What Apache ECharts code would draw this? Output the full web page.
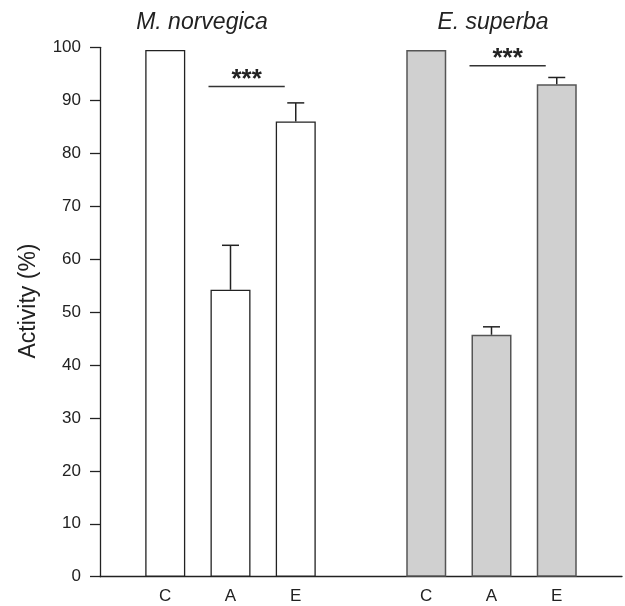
<!DOCTYPE html>
<html>
<head>
<meta charset="utf-8">
<script src="https://cdn.jsdelivr.net/npm/echarts@6/dist/echarts.min.js"></script>
<style>
  html, body { margin: 0; padding: 0; background: #fff; }
  #chart { width: 625px; height: 606px; }
</style>
</head>
<body>
<div id="chart"></div>
<script>
// categories along x; empty slots give the gap between the two species
var categories = ['', 'C', 'A', 'E', '', 'C', 'A', 'E', ''];
var yTicks = [0, 10, 20, 30, 40, 50, 60, 70, 80, 90, 100];

// M. norvegica
var norvegicaIdx = [1, 2, 3];
var norvegicaMean = [99.5, 54.2, 86.0];
var norvegicaErr = [0, 8.4, 3.5];
var norvegicaSig = [92.6];

// E. superba
var superbaIdx = [5, 6, 7];
var superbaMean = [99.5, 45.7, 93.0];
var superbaErr = [0, 1.5, 1.3];
var superbaSig = [96.5];

var FONT = '"Liberation Sans", Arial, Helvetica, sans-serif';

function barData(idx, vals) {
  var out = categories.map(function () { return '-'; });
  for (var i = 0; i < idx.length; i++) out[idx[i]] = vals[i];
  return out;
}

function errData(idx, mean, err) {
  var out = [];
  for (var i = 0; i < idx.length; i++) {
    if (err[i] > 0) out.push([idx[i], mean[i], mean[i] + err[i]]);
  }
  return out;
}

// significance bracket: from A (index) to E (index), at height y
var sigData = [
  [norvegicaIdx[1], norvegicaIdx[2], norvegicaSig[0]],
  [superbaIdx[1], superbaIdx[2], superbaSig[0]]
];

var myChart = echarts.init(document.getElementById('chart'));

var option = {
  animation: false,
  backgroundColor: '#fff',
  grid: { left: 100, top: 47.3, width: 528, height: 529.4, containLabel: false },
  graphic: [
    { type: 'text', x: 202, y: 23, style: { text: 'M. norvegica', fill: '#222', font: 'italic 23px ' + FONT, align: 'center', verticalAlign: 'middle', textAlign: 'center', textVerticalAlign: 'middle' } },
    { type: 'text', x: 493, y: 23, style: { text: 'E. superba', fill: '#222', font: 'italic 23px ' + FONT, align: 'center', verticalAlign: 'middle', textAlign: 'center', textVerticalAlign: 'middle' } }
  ],
  xAxis: {
    type: 'category',
    data: categories,
    boundaryGap: false,
    axisLine: { show: true, lineStyle: { color: '#222', width: 1.3 } },
    axisTick: { show: false },
    axisLabel: { color: '#222', fontSize: 17, fontFamily: FONT, margin: 11, interval: 0 },
    splitLine: { show: false }
  },
  yAxis: {
    type: 'value',
    min: yTicks[0],
    max: yTicks[yTicks.length - 1],
    interval: 10,
    name: 'Activity (%)',
    nameLocation: 'middle',
    nameGap: 60,
    nameTextStyle: { color: '#222', fontSize: 23, fontFamily: FONT, padding: [0, 0, 0, 22] },
    axisLine: { show: true, lineStyle: { color: '#222', width: 1.3 } },
    axisTick: { show: true, length: 10, inside: false, lineStyle: { color: '#222', width: 1.3 } },
    axisLabel: { color: '#222', fontSize: 17, fontFamily: FONT, margin: 19 },
    splitLine: { show: false }
  },
  series: [
    {
      name: 'M. norvegica',
      type: 'bar',
      barWidth: 40,
      barGap: '-100%',
      data: barData(norvegicaIdx, norvegicaMean),
      itemStyle: { color: '#fff', borderColor: '#222', borderWidth: 1.3 }
    },
    {
      name: 'E. superba',
      type: 'bar',
      barWidth: 40,
      barGap: '-100%',
      data: barData(superbaIdx, superbaMean),
      itemStyle: { color: '#d0d0d0', borderColor: '#555', borderWidth: 1.5 }
    },
    {
      name: 'error',
      type: 'custom',
      data: errData(norvegicaIdx, norvegicaMean, norvegicaErr)
        .concat(errData(superbaIdx, superbaMean, superbaErr)),
      renderItem: function (params, api) {
        var base = api.coord([api.value(0), api.value(1)]);
        var top = api.coord([api.value(0), api.value(2)]);
        var half = 8.5;
        var st = { stroke: '#222', lineWidth: 1.5 };
        return {
          type: 'group',
          children: [
            { type: 'line', shape: { x1: base[0], y1: base[1], x2: top[0], y2: top[1] }, style: st },
            { type: 'line', shape: { x1: top[0] - half, y1: top[1], x2: top[0] + half, y2: top[1] }, style: st }
          ]
        };
      },
      z: 5
    },
    {
      name: 'sig',
      type: 'custom',
      data: sigData,
      renderItem: function (params, api) {
        var p1 = api.coord([api.value(0), api.value(2)]);
        var p2 = api.coord([api.value(1), api.value(2)]);
        var x1 = p1[0] - 22, x2 = p2[0] - 11;
        return {
          type: 'group',
          children: [
            { type: 'line', shape: { x1: x1, y1: p1[1], x2: x2, y2: p1[1] }, style: { stroke: '#333', lineWidth: 1.5 } },
            { type: 'text', x: (x1 + x2) / 2, y: p1[1] - 7,
              style: { text: '***', fill: '#222', font: 'bold 26px ' + FONT, align: 'center', verticalAlign: 'middle', textAlign: 'center', textVerticalAlign: 'middle' } }
          ]
        };
      },
      z: 5
    }
  ]
};

myChart.setOption(option);
</script>
</body>
</html>
